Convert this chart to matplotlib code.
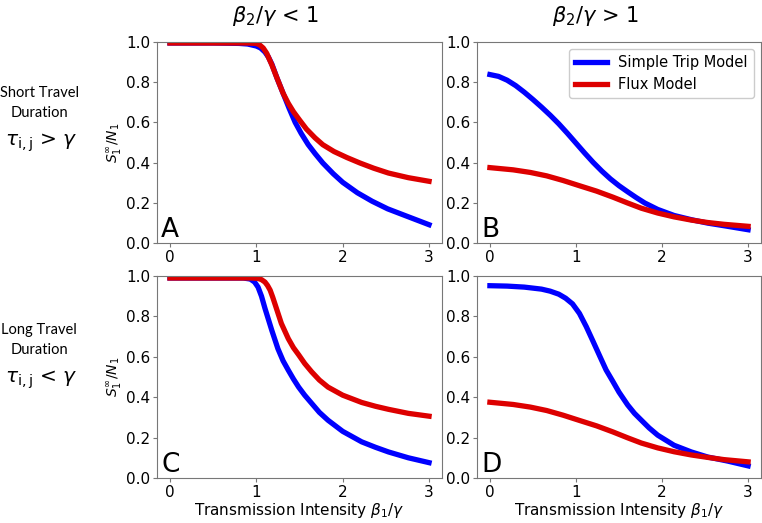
import matplotlib
matplotlib.use("Agg")
import matplotlib.pyplot as plt

# ---------------- data ----------------
# Panel A (short travel, beta2/gamma < 1)
a_trip_x = [0, 0.5, 0.8, 0.9, 1.0, 1.05, 1.1, 1.14, 1.18, 1.24, 1.31, 1.38, 1.45, 1.52, 1.6, 1.68, 1.77, 1.89, 2.0, 2.17, 2.34, 2.52, 2.72, 2.86, 3.0]
a_trip_y = [0.995, 0.995, 0.993, 0.99, 0.98, 0.97, 0.95, 0.925, 0.89, 0.82, 0.745, 0.67, 0.60, 0.545, 0.49, 0.445, 0.398, 0.345, 0.302, 0.25, 0.208, 0.17, 0.137, 0.114, 0.091]
a_flux_x = [0, 0.5, 0.9, 1.0, 1.04, 1.08, 1.12, 1.18, 1.24, 1.31, 1.37, 1.43, 1.5, 1.58, 1.68, 1.77, 1.9, 2.05, 2.2, 2.36, 2.53, 2.76, 3.0]
a_flux_y = [0.995, 0.995, 0.995, 0.993, 0.985, 0.97, 0.944, 0.886, 0.82, 0.745, 0.695, 0.653, 0.612, 0.567, 0.523, 0.489, 0.455, 0.425, 0.398, 0.372, 0.348, 0.325, 0.307]

# Panel B (short travel, beta2/gamma > 1)
b_trip_x = [0, 0.1, 0.2, 0.3, 0.4, 0.5, 0.6, 0.7, 0.8, 0.9, 1.0, 1.1, 1.2, 1.3, 1.4, 1.5, 1.6, 1.7, 1.8, 1.95, 2.14, 2.34, 2.53, 2.72, 3.0]
b_trip_y = [0.838, 0.829, 0.81, 0.783, 0.75, 0.714, 0.676, 0.636, 0.593, 0.546, 0.497, 0.448, 0.401, 0.358, 0.319, 0.285, 0.255, 0.226, 0.199, 0.167, 0.137, 0.116, 0.099, 0.086, 0.066]
b_flux_x = [0, 0.27, 0.47, 0.66, 0.85, 1.04, 1.24, 1.43, 1.6, 1.76, 1.95, 2.14, 2.34, 2.53, 2.72, 3.0]
b_flux_y = [0.375, 0.364, 0.351, 0.334, 0.311, 0.285, 0.258, 0.228, 0.199, 0.173, 0.149, 0.130, 0.114, 0.102, 0.093, 0.083]

# Panel C (long travel, beta2/gamma < 1)
c_trip_x = [0, 0.5, 0.85, 0.93, 0.98, 1.02, 1.06, 1.10, 1.14, 1.18, 1.25, 1.31, 1.37, 1.43, 1.49, 1.56, 1.64, 1.73, 1.83, 2.0, 2.22, 2.38, 2.53, 2.76, 3.0]
c_trip_y = [0.99, 0.99, 0.99, 0.985, 0.97, 0.945, 0.90, 0.84, 0.785, 0.73, 0.64, 0.58, 0.534, 0.49, 0.45, 0.41, 0.37, 0.325, 0.286, 0.231, 0.179, 0.152, 0.129, 0.10, 0.076]
c_flux_x = [0, 0.5, 0.95, 1.02, 1.06, 1.10, 1.13, 1.16, 1.19, 1.22, 1.29, 1.37, 1.43, 1.49, 1.56, 1.64, 1.73, 1.83, 2.0, 2.22, 2.38, 2.53, 2.76, 3.0]
c_flux_y = [0.99, 0.99, 0.99, 0.988, 0.982, 0.97, 0.953, 0.93, 0.895, 0.856, 0.765, 0.69, 0.645, 0.61, 0.567, 0.526, 0.485, 0.45, 0.41, 0.374, 0.355, 0.34, 0.32, 0.306]

# Panel D (long travel, beta2/gamma > 1)
d_trip_x = [0, 0.2, 0.4, 0.6, 0.7, 0.8, 0.88, 0.96, 1.04, 1.12, 1.20, 1.28, 1.35, 1.43, 1.50, 1.60, 1.68, 1.76, 1.85, 1.95, 2.14, 2.34, 2.53, 2.76, 3.0]
d_trip_y = [0.952, 0.95, 0.945, 0.935, 0.925, 0.91, 0.89, 0.862, 0.815, 0.749, 0.675, 0.60, 0.535, 0.477, 0.425, 0.362, 0.32, 0.286, 0.248, 0.212, 0.162, 0.129, 0.104, 0.084, 0.06]
d_flux_x = [0, 0.27, 0.47, 0.66, 0.85, 1.04, 1.24, 1.43, 1.6, 1.76, 1.95, 2.14, 2.34, 2.53, 2.72, 3.0]
d_flux_y = [0.375, 0.364, 0.351, 0.334, 0.311, 0.285, 0.258, 0.228, 0.199, 0.173, 0.149, 0.130, 0.114, 0.102, 0.091, 0.08]

xticks = [0, 1, 2, 3]
yticks = [0.0, 0.2, 0.4, 0.6, 0.8, 1.0]
series_labels = ["Simple Trip Model", "Flux Model"]
panel_letters = ["A", "B", "C", "D"]
col_titles = [r"$\beta_2/\gamma$ < 1", r"$\beta_2/\gamma$ > 1"]
row_texts = ["Short Travel\nDuration", "Long Travel\nDuration"]
row_math = [r"$\tau_{\mathrm{i,j}}$ > $\gamma$", r"$\tau_{\mathrm{i,j}}$ < $\gamma$"]
xlabel = r"Transmission Intensity $\beta_1/\gamma$"
ylabel = r"$S_1^{\infty}/N_1$"

# ---------------- plot ----------------
BLUE = "#0000ff"
RED = "#dd0000"
SPINE = "#777777"

fig = plt.figure(figsize=(7.62, 5.23), dpi=100)
W, H = 762, 523

def box(l, t, r, b):
    return [l / W, 1 - b / H, (r - l) / W, (b - t) / H]

rects = [box(157, 42, 442, 243), box(477, 42, 761, 243),
         box(157, 276, 442, 478), box(477, 276, 761, 478)]
data = [(a_trip_x, a_trip_y, a_flux_x, a_flux_y),
        (b_trip_x, b_trip_y, b_flux_x, b_flux_y),
        (c_trip_x, c_trip_y, c_flux_x, c_flux_y),
        (d_trip_x, d_trip_y, d_flux_x, d_flux_y)]

axes = []
for i, (rect, (tx, ty, fx, fy)) in enumerate(zip(rects, data)):
    ax = fig.add_axes(rect)
    ax.plot(tx, ty, color=BLUE, lw=3.8, label=series_labels[0], solid_joinstyle="round")
    ax.plot(fx, fy, color=RED, lw=3.8, label=series_labels[1], solid_joinstyle="round")
    ax.set_xlim(-0.15, 3.15)
    ax.set_ylim(0.0, 1.0)
    ax.set_xticks(xticks)
    ax.set_yticks(yticks)
    ax.set_yticklabels([f"{v:.1f}" for v in yticks])
    ax.tick_params(labelsize=11, color=SPINE, length=3, pad=2)
    for s in ax.spines.values():
        s.set_color(SPINE)
    ax.text(0.015, 0.0, panel_letters[i], transform=ax.transAxes, fontsize=19,
            ha="left", va="bottom")
    if i in (0, 2):
        ax.set_ylabel(ylabel, fontsize=10, labelpad=1)
    if i in (2, 3):
        ax.set_xlabel(xlabel, fontsize=11, labelpad=1)
    axes.append(ax)

axes[1].legend(loc="upper right", fontsize=10.5, handlelength=2.2, framealpha=1,
               borderaxespad=0.5)

# column titles
fig.text(275 / W, 1 - 16 / H, col_titles[0], fontsize=15, ha="center", va="center")
fig.text(595 / W, 1 - 16 / H, col_titles[1], fontsize=15, ha="center", va="center")

# row labels
for k, (yt, ym) in enumerate([(103, 143), (340, 380)]):
    fig.text(39 / W, 1 - yt / H, row_texts[k], fontsize=10.5, ha="center", va="center",
             family="Lato", linespacing=1.55)
    fig.text(41 / W, 1 - ym / H, row_math[k], fontsize=14.5, ha="center", va="center")

fig.savefig("out.png", dpi=100)
